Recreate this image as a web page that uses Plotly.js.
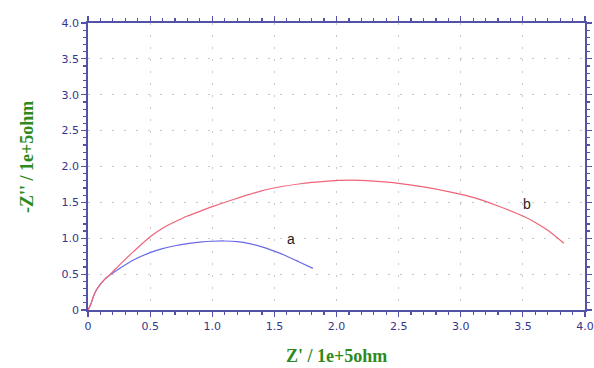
<!DOCTYPE html>
<html><head><meta charset="utf-8">
<script src="https://cdn.plot.ly/plotly-3.0.1.min.js"></script>
<style>html,body{margin:0;padding:0;background:#fff;}#chart{width:594px;height:368px;}</style>
</head><body><div id="chart"></div>
<script>
const aX = [0, 0.02, 0.048, 0.075, 0.13, 0.18, 0.26, 0.37, 0.5, 0.6, 0.7, 0.8, 0.9, 1.0, 1.1, 1.2, 1.3, 1.4, 1.5, 1.6, 1.7, 1.81];
const aY = [0, 0.07, 0.21, 0.30, 0.42, 0.49, 0.585, 0.70, 0.80, 0.855, 0.895, 0.925, 0.945, 0.958, 0.962, 0.952, 0.925, 0.88, 0.82, 0.75, 0.67, 0.58];
const bX = [0, 0.02, 0.048, 0.075, 0.13, 0.18, 0.26, 0.37, 0.5, 0.6, 0.7, 0.8, 0.9, 1.0, 1.17, 1.44, 1.71, 1.93, 2.1, 2.3, 2.5, 2.7, 2.9, 3.1, 3.3, 3.5, 3.6, 3.7, 3.83];
const bY = [0, 0.07, 0.21, 0.30, 0.42, 0.50, 0.64, 0.82, 1.02, 1.14, 1.23, 1.31, 1.375, 1.44, 1.54, 1.68, 1.76, 1.795, 1.81, 1.795, 1.765, 1.715, 1.65, 1.57, 1.45, 1.31, 1.22, 1.11, 0.93];
const tickVals = [0, 0.5, 1.0, 1.5, 2.0, 2.5, 3.0, 3.5, 4.0];
const tickText = ['0', '0.5', '1.0', '1.5', '2.0', '2.5', '3.0', '3.5', '4.0'];
const xTitle = "Z' / 1e+5ohm";
const yTitle = "-Z'' / 1e+5ohm";
const labelA = {text: 'a', x: 1.63, y: 0.99};
const labelB = {text: 'b', x: 3.53, y: 1.48};

const axisColor = '#5252a6';
const common = {
  range: [0, 4], tickvals: tickVals, ticktext: tickText,
  showline: true, linecolor: axisColor, linewidth: 1.8, mirror: 'ticks',
  ticks: 'outside', ticklen: 5, tickcolor: axisColor, tickwidth: 1.2,
  minor: {dtick: 0.1, ticks: 'outside', ticklen: 3, tickcolor: axisColor, showgrid: false},
  showgrid: true, gridcolor: '#c9c9c9', gridwidth: 1, griddash: '2px,10px',
  zeroline: false,
  tickfont: {family: 'DejaVu Sans, Verdana', size: 11, color: '#35358a'}
};
const titleFont = {family: 'Liberation Serif, Times New Roman', size: 18, color: '#2f8a1e', weight: 'bold'};

const data = [
  {x: aX, y: aY, mode: 'lines', line: {color: '#6a6ae6', width: 1.2, shape: 'spline', smoothing: 0.7}, hoverinfo: 'skip'},
  {x: bX, y: bY, mode: 'lines', line: {color: '#ef6479', width: 1.2, shape: 'spline', smoothing: 0.7}, hoverinfo: 'skip'}
];
const annotations = [labelA, labelB].map(l => ({
  x: l.x, y: l.y, text: l.text, showarrow: false,
  font: {family: 'Liberation Sans, Arial', size: 14, color: '#222'}
}));
annotations.push({xref: 'paper', yref: 'paper', x: 0.499, y: -0.162, xanchor: 'center', yanchor: 'middle',
  text: xTitle, showarrow: false, font: titleFont});
annotations.push({xref: 'paper', yref: 'paper', x: -0.1227, y: 0.533, xanchor: 'center', yanchor: 'middle',
  text: yTitle, textangle: -90, showarrow: false, font: titleFont});

const layout = {
  width: 594, height: 368,
  margin: {l: 88, r: 9, t: 23, b: 58},
  paper_bgcolor: '#fff', plot_bgcolor: '#fff',
  showlegend: false,
  xaxis: common, yaxis: Object.assign({}, common),
  annotations: annotations
};
Plotly.newPlot('chart', data, layout, {staticPlot: true});
</script></body></html>
